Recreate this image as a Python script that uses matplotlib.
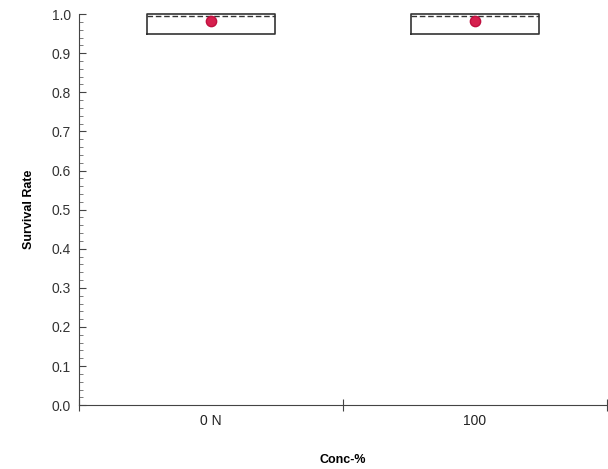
import matplotlib
matplotlib.use("Agg")
import matplotlib.pyplot as plt
from matplotlib.ticker import MultipleLocator, FixedLocator, FixedFormatter

plt.rcParams['font.family'] = ['Liberation Sans', 'DejaVu Sans']

categories = ["0 N", "100"]
q1 = [0.95, 0.95]
median = [0.995, 0.995]
q3 = [1.0, 1.0]
whislo = [0.95, 0.95]
whishi = [1.0, 1.0]
means = [0.983, 0.983]

fig = plt.figure(figsize=(6.08, 4.69), dpi=100)
ax = fig.add_axes([0.13, 0.136, 0.868, 0.834])

positions = [0.5, 1.5]
stats = []
for i, c in enumerate(categories):
    stats.append(dict(label=c, q1=q1[i], med=median[i], q3=q3[i],
                      whislo=whislo[i], whishi=whishi[i], mean=means[i], fliers=[]))
ax.bxp(stats, positions=positions, widths=0.485, showmeans=False, showcaps=False,
       boxprops=dict(color='#333333', linewidth=1.2),
       medianprops=dict(color='#333333', linewidth=1.0, linestyle=(0, (4, 2))),
       whiskerprops=dict(color='#333333', linewidth=1.0))
ax.scatter(positions, means, s=55, color='#d6204e', zorder=5, edgecolors='#c01040')

ax.set_xlim(0, 2)
ax.set_ylim(0, 1.0)
ax.xaxis.set_major_locator(FixedLocator([0, 1, 2]))
ax.xaxis.set_major_formatter(FixedFormatter(["", "", ""]))
ax.xaxis.set_minor_locator(FixedLocator(positions))
ax.xaxis.set_minor_formatter(FixedFormatter(categories))
ax.tick_params(axis='x', which='minor', length=0, pad=6, labelsize=10, labelcolor='#222222')
ax.tick_params(axis='x', which='major', direction='inout', length=8, color='#444444')

ax.yaxis.set_major_locator(MultipleLocator(0.1))
ax.yaxis.set_minor_locator(MultipleLocator(0.02))
ax.yaxis.set_major_formatter(matplotlib.ticker.FormatStrFormatter('%.1f'))
ax.tick_params(axis='y', which='major', direction='in', length=5, labelsize=10,
               color='#444444', pad=6, labelcolor='#333333')
ax.tick_params(axis='y', which='minor', direction='in', length=3, color='#666666')

for s in ['top', 'right']:
    ax.spines[s].set_visible(False)
for s in ['left', 'bottom']:
    ax.spines[s].set_color('#444444')

ax.set_xlabel("Conc-%", fontsize=9, fontweight='bold', labelpad=19)
ax.set_ylabel("Survival Rate", fontsize=9, fontweight='bold', labelpad=12)
for a in ax.lines + ax.patches + ax.collections:
    a.set_clip_on(False)

fig.savefig("out.png", dpi=100)
